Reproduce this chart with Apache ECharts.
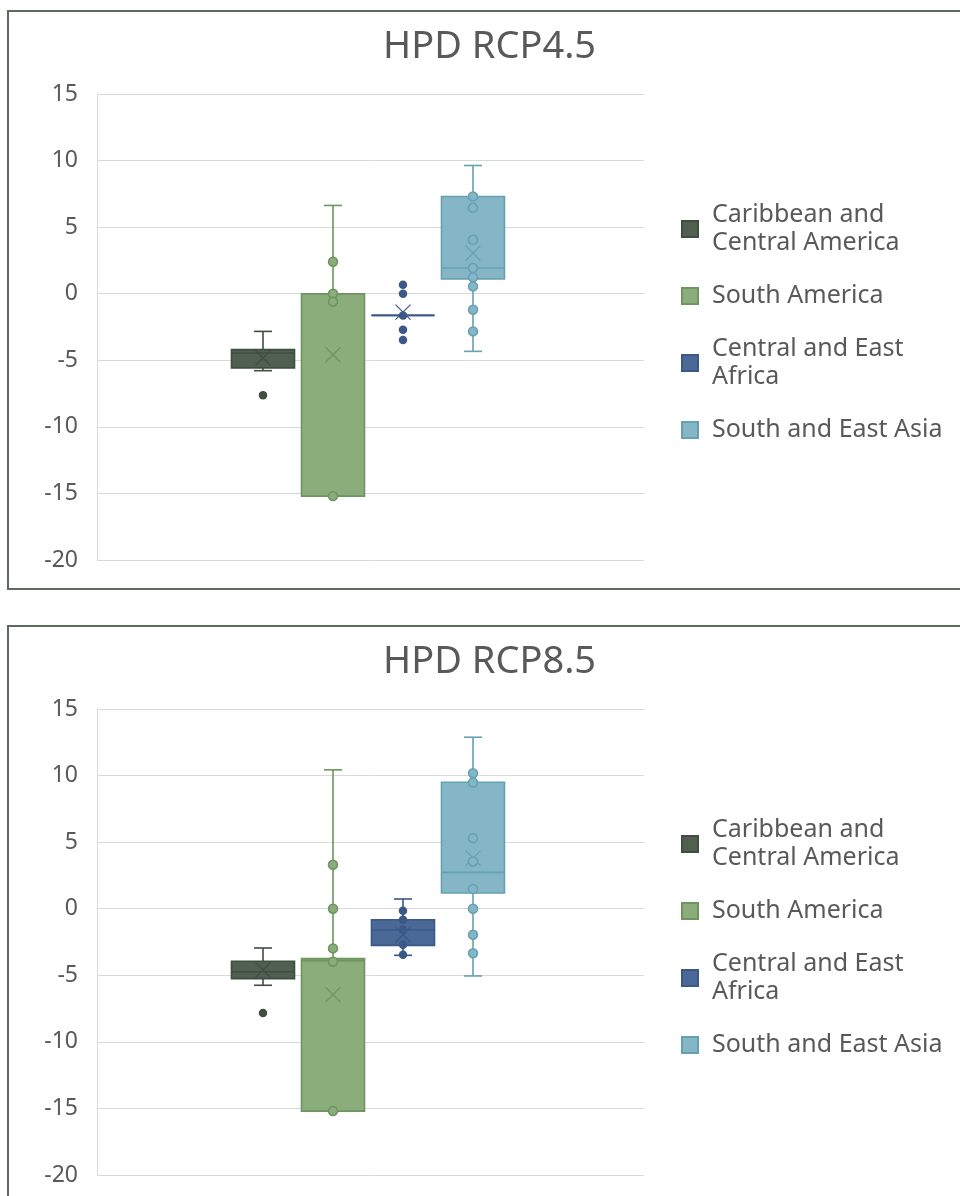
<!DOCTYPE html>
<html>
<head>
<meta charset="utf-8">
<script src="https://cdn.jsdelivr.net/npm/echarts@6/dist/echarts.min.js"></script>
<style>
  body { margin: 0; background: #fff; width: 960px; height: 1196px; overflow: hidden; position: relative; }
  .frame { position: absolute; left: 7px; width: 1000px; height: 576px; border: 2px solid #5b6b59; }
  .chart { position: absolute; left: 0; width: 960px; height: 600px; }
</style>
</head>
<body>
<div class="frame" style="top:10px"></div>
<div class="frame" style="top:625px"></div>
<div id="rcp45" class="chart" style="top:0"></div>
<div id="rcp85" class="chart" style="top:615px"></div>
<script>
// regions (one box each)
var regions = ['Caribbean and Central America', 'South America', 'Central and East Africa', 'South and East Asia'];
var legendLabels = ['Caribbean and\nCentral America', 'South America', 'Central and East\nAfrica', 'South and East Asia'];
var fills = ['#505f50', '#8aad7b', '#4a6997', '#84b6c6'];
var strokes = ['#3f4e40', '#6e9460', '#3b5886', '#66a0b3'];
var yTicks = [-20, -15, -10, -5, 0, 5, 10, 15];

// HPD RCP4.5
var rcp45Min    = [-5.78, -15.2, -1.63, -4.33];
var rcp45Q1     = [-5.57, -15.2, -1.63, 1.10];
var rcp45Median = [-4.45, 0.0, -1.63, 1.93];
var rcp45Q3     = [-4.20, 0.0, -1.63, 7.30];
var rcp45Max    = [-2.83, 6.63, -1.63, 9.63];
var rcp45Mean   = [-4.83, -4.58, -1.38, 3.05];
var rcp45Points = [
  [-7.63],
  [2.40, 0.0, -0.60, -15.2],
  [0.68, 0.0, -1.63, -2.70, -3.48],
  [7.30, 6.45, 4.05, 1.93, 1.23, 0.55, -1.20, -2.83]
];

// HPD RCP8.5
var rcp85Min    = [-5.75, -15.2, -3.50, -5.05];
var rcp85Q1     = [-5.25, -15.2, -2.75, 1.18];
var rcp85Median = [-4.73, -3.90, -1.60, 2.73];
var rcp85Q3     = [-3.95, -3.75, -0.83, 9.50];
var rcp85Max    = [-2.95, 10.43, 0.73, 12.88];
var rcp85Mean   = [-4.60, -6.45, -1.95, 3.80];
var rcp85Points = [
  [-7.83],
  [3.30, 0.0, -2.98, -3.98, -15.2],
  [-0.15, -0.83, -1.58, -2.70, -3.45],
  [10.18, 9.48, 5.30, 3.55, 1.48, 0.0, -1.95, -3.35]
];

function boxRenderer(fill, stroke) {
  return function (params, api) {
    var x = api.value(0);
    var pMin = api.coord([x, api.value(1)]);
    var pQ1 = api.coord([x, api.value(2)]);
    var pMed = api.coord([x, api.value(3)]);
    var pQ3 = api.coord([x, api.value(4)]);
    var pMax = api.coord([x, api.value(5)]);
    var pMean = api.coord([x, api.value(6)]);
    var cx = pMin[0];
    var half = api.size([1, 0])[0] * 0.45;
    var cap = 9, m = 7.5;
    var line = { stroke: stroke, lineWidth: 1.6 };
    var kids = [];
    if (pMax[1] < pQ3[1] - 0.5) {
      kids.push({ type: 'line', shape: { x1: cx, y1: pQ3[1], x2: cx, y2: pMax[1] }, style: line });
      kids.push({ type: 'line', shape: { x1: cx - cap, y1: pMax[1], x2: cx + cap, y2: pMax[1] }, style: line });
    }
    if (pMin[1] > pQ1[1] + 0.5) {
      kids.push({ type: 'line', shape: { x1: cx, y1: pQ1[1], x2: cx, y2: pMin[1] }, style: line });
      kids.push({ type: 'line', shape: { x1: cx - cap, y1: pMin[1], x2: cx + cap, y2: pMin[1] }, style: line });
    }
    kids.push({ type: 'rect', shape: { x: cx - half, y: pQ3[1], width: half * 2, height: pQ1[1] - pQ3[1] },
      style: { fill: fill, stroke: stroke, lineWidth: 1.6 } });
    kids.push({ type: 'line', shape: { x1: cx - half, y1: pMed[1], x2: cx + half, y2: pMed[1] }, style: { stroke: stroke, lineWidth: 1.6 } });
    kids.push({ type: 'line', shape: { x1: cx - m, y1: pMean[1] - m, x2: cx + m, y2: pMean[1] + m }, style: { stroke: stroke, lineWidth: 1.3 } });
    kids.push({ type: 'line', shape: { x1: cx - m, y1: pMean[1] + m, x2: cx + m, y2: pMean[1] - m }, style: { stroke: stroke, lineWidth: 1.3 } });
    return { type: 'group', children: kids };
  };
}

function makeOption(title, mins, q1s, meds, q3s, maxs, means, points) {
  var series = [];
  regions.forEach(function (name, i) {
    series.push({
      name: name,
      type: 'custom',
      renderItem: boxRenderer(fills[i], strokes[i]),
      itemStyle: { color: fills[i], borderColor: strokes[i], borderWidth: 1 },
      encode: { x: 0, y: [1, 2, 3, 4, 5, 6] },
      data: [[i, mins[i], q1s[i], meds[i], q3s[i], maxs[i], means[i]]],
      z: 2
    });
  });
  regions.forEach(function (name, i) {
    var dark = (i === 0 || i === 2);
    series.push({
      name: name,
      type: 'scatter',
      symbol: 'circle',
      symbolSize: dark ? 8.5 : 9,
      itemStyle: { color: dark ? strokes[i] : fills[i], borderColor: strokes[i], borderWidth: dark ? 0 : 1.5, opacity: 1 },
      data: points[i].map(function (v) { return [i, v]; }),
      z: 3
    });
  });
  return {
    animation: false,
    title: {
      text: title,
      left: 378,
      top: 23,
      textStyle: { fontFamily: 'Noto Sans', fontWeight: 'normal', fontSize: 38, color: '#595959' }
    },
    legend: {
      data: regions,
      orient: 'vertical',
      left: 681,
      top: 201,
      padding: 0,
      icon: 'rect',
      itemWidth: 16,
      itemHeight: 16,
      itemGap: 25,
      formatter: function (name) { return legendLabels[regions.indexOf(name)]; },
      textStyle: { fontFamily: 'Noto Sans', fontSize: 25, lineHeight: 28, color: '#595959', padding: [0, 0, 0, 9] }
    },
    grid: { left: 97, top: 94, width: 547, height: 466, containLabel: false },
    xAxis: { type: 'value', min: -2.3714, max: 5.4429, show: false },
    yAxis: {
      type: 'value',
      min: yTicks[0],
      max: yTicks[yTicks.length - 1],
      interval: 5,
      axisLine: { show: true, onZero: false, lineStyle: { color: '#d9d9d9', width: 1 } },
      axisTick: { show: false },
      splitLine: { lineStyle: { color: '#d9d9d9', width: 1 } },
      axisLabel: { fontFamily: 'Noto Sans', fontSize: 23, color: '#595959', margin: 19 }
    },
    series: series
  };
}

var chart45 = echarts.init(document.getElementById('rcp45'));
chart45.setOption(makeOption('HPD RCP4.5', rcp45Min, rcp45Q1, rcp45Median, rcp45Q3, rcp45Max, rcp45Mean, rcp45Points));
var chart85 = echarts.init(document.getElementById('rcp85'));
chart85.setOption(makeOption('HPD RCP8.5', rcp85Min, rcp85Q1, rcp85Median, rcp85Q3, rcp85Max, rcp85Mean, rcp85Points));
</script>
</body>
</html>
